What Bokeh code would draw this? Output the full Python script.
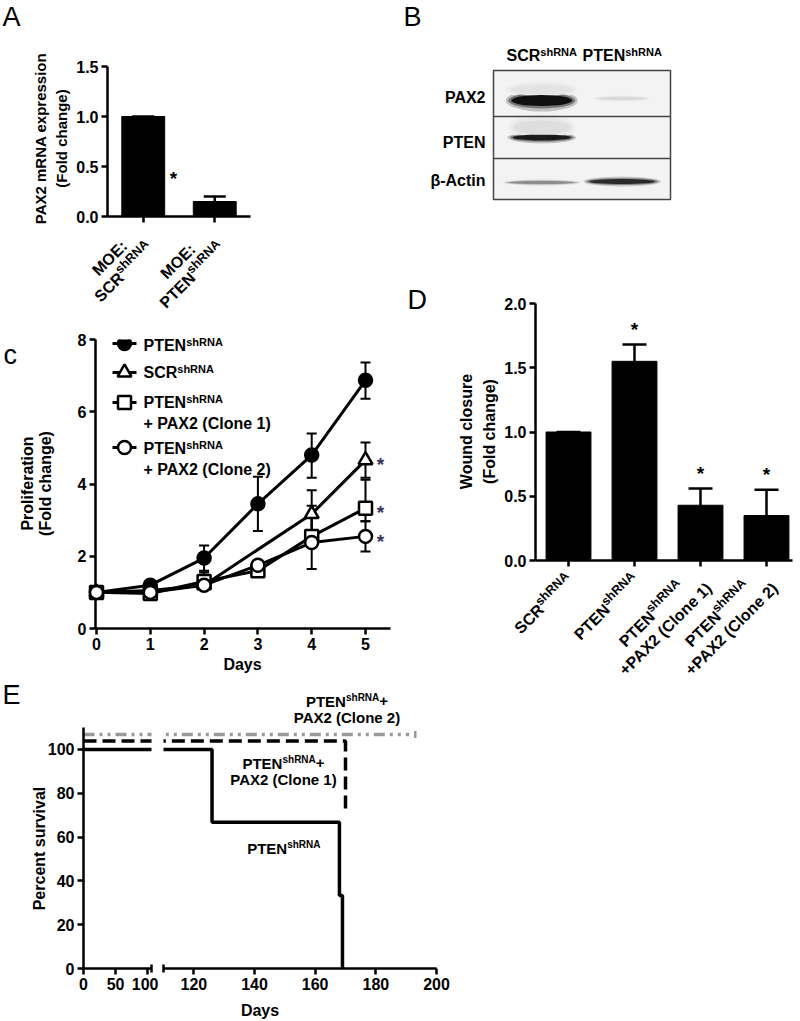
import math
from bokeh.plotting import figure
from bokeh.models import (Range1d, FixedTicker, Whisker, TeeHead,
                          ColumnDataSource, PrintfTickFormatter)
from bokeh.core.properties import value
from bokeh.layouts import column, row
from bokeh.embed import file_html
from bokeh.resources import INLINE

FONT = "Liberation Sans"

# ---------------- data ----------------
# Panel A: PAX2 mRNA expression
A_pos = [1, 2]
A_values = [1.0, 0.15]
A_err = [0.0, 0.05]
A_categories = [
    [[("MOE:", 0)], [("SCR", 0), ("shRNA", 1)]],
    [[("MOE:", 0)], [("PTEN", 0), ("shRNA", 1)]],
]

# Panel B: western blot (lane, row position, band size and intensity)
B_lanes = [1, 2]
B_lane_names = [[("SCR", 0), ("shRNA", 1)], [("PTEN", 0), ("shRNA", 1)]]
B_row_names = ["PAX2", "PTEN", "β-Actin"]
B_row_bounds = [83, 41]
B_band_lane = [1, 2, 1, 1, 1, 1, 2]
B_band_y = [99, 101, 110, 62, 72, 17, 18]
B_band_w = [0.80, 0.62, 0.80, 0.76, 0.74, 0.86, 0.86]
B_band_h = [11, 3, 9, 6, 14, 3, 5]
B_band_int = [1.0, 0.12, 0.07, 0.95, 0.09, 0.45, 0.88]

# Panel C: proliferation
C_days = [0, 1, 2, 3, 4, 5]
C_pten = [1.0, 1.2, 1.95, 3.45, 4.8, 6.87]
C_pten_lo = [1.0, 1.15, 1.6, 2.7, 4.17, 6.36]
C_pten_hi = [1.0, 1.25, 2.3, 4.2, 5.4, 7.36]
C_scr_days = [0, 1, 2, 4, 5]
C_scr = [1.0, 1.05, 1.2, 3.17, 4.66]
C_scr_lo = [1.0, 1.0, 1.1, 2.5, 4.17]
C_scr_hi = [1.0, 1.1, 1.3, 3.83, 5.15]
C_c1 = [1.0, 0.97, 1.3, 1.6, 2.55, 3.33]
C_c1_lo = [1.0, 0.95, 1.1, 1.55, 2.4, 2.97]
C_c1_hi = [1.0, 1.0, 1.55, 1.65, 3.4, 4.12]
C_c2 = [1.0, 1.0, 1.2, 1.75, 2.38, 2.55]
C_c2_lo = [1.0, 0.95, 1.1, 1.7, 1.65, 2.13]
C_c2_hi = [1.0, 1.05, 1.4, 1.8, 3.1, 2.97]
C_legend = [
    [[("PTEN", 0), ("shRNA", 1)]],
    [[("SCR", 0), ("shRNA", 1)]],
    [[("PTEN", 0), ("shRNA", 1)], [("+ PAX2 (Clone 1)", 0)]],
    [[("PTEN", 0), ("shRNA", 1)], [("+ PAX2 (Clone 2)", 0)]],
]

# Panel D: wound closure
D_pos = [1, 2, 3, 4]
D_values = [1.0, 1.55, 0.43, 0.35]
D_err = [0.0, 0.13, 0.13, 0.20]
D_star = [False, True, True, True]
D_categories = [
    [[("SCR", 0), ("shRNA", 1)]],
    [[("PTEN", 0), ("shRNA", 1)]],
    [[("PTEN", 0), ("shRNA", 1)], [("+PAX2 (Clone 1)", 0)]],
    [[("PTEN", 0), ("shRNA", 1)], [("+PAX2 (Clone 2)", 0)]],
]

# Panel E: survival
E_pten_t = [0, 126, 168, 169]
E_pten_s = [100, 66.7, 33.3, 0]
E_c1_t = [0, 170]
E_c1_s = [100, 66.7]
E_c2_t = [0, 191]
E_c2_s = [100, 100]
E_c2_censor = [193]
E_left_ticks = [0, 50, 100]
E_right_ticks = [120, 140, 160, 180, 200]
E_y_ticks = [0, 20, 40, 60, 80, 100]

# display offsets used to separate overlapping curves (style)
E_OFF_C1 = 3.8
E_OFF_C2 = 6.8

# ---------------- helpers ----------------
CW = {' ': 278, '(': 333, ')': 333, '+': 584, ':': 333, '.': 278, '-': 333, '*': 389,
      '0': 556, '1': 556, '2': 556, '3': 556, '4': 556, '5': 556, '6': 556, '7': 556, '8': 556, '9': 556,
      'A': 722, 'B': 722, 'C': 722, 'D': 722, 'E': 667, 'F': 611, 'G': 778, 'H': 722, 'I': 278,
      'K': 722, 'L': 611, 'M': 833, 'N': 722, 'O': 778, 'P': 667, 'R': 722, 'S': 667, 'T': 611,
      'U': 722, 'V': 667, 'W': 944, 'X': 667, 'Y': 667,
      'a': 556, 'b': 611, 'c': 556, 'd': 611, 'e': 556, 'f': 333, 'g': 611, 'h': 611, 'i': 278,
      'k': 556, 'l': 278, 'm': 889, 'n': 611, 'o': 611, 'p': 611, 'r': 389, 's': 556, 't': 333,
      'u': 611, 'v': 556, 'x': 556, 'y': 556, 'β': 611}

BASE_FIX = 0.30   # alphabetic baseline correction (fraction of font size)


def tw(s, size):
    return sum(CW.get(c, 600) for c in s) / 1000.0 * size


class Geo:
    """Converts page pixel positions of text into the data space of one figure."""

    def __init__(self, p, L, R, T, B):
        self.p, self.L, self.R, self.T, self.B = p, L, R, T, B
        self.x0, self.x1 = p.x_range.start, p.x_range.end
        self.y0, self.y1 = p.y_range.start, p.y_range.end

    def dx(self, X):
        return self.x0 + (X - self.L) * (self.x1 - self.x0) / (self.R - self.L)

    def dy(self, Y):
        return self.y0 + (self.B - Y) * (self.y1 - self.y0) / (self.B - self.T)

    def px(self, x):
        return self.L + (x - self.x0) * (self.R - self.L) / (self.x1 - self.x0)

    def py(self, y):
        return self.B - (y - self.y0) * (self.B - self.T) / (self.y1 - self.y0)

    def label(self, X, Y, text, size=16, bold=True, align="left", baseline="alphabetic",
              angle=0.0, color="black"):
        if baseline == "alphabetic" and angle == 0.0:
            Y = Y - BASE_FIX * size
        r = self.p.text(x=[self.dx(X)], y=[self.dy(Y)], text=[text], text_font=value(FONT),
                        text_font_size=value(f"{size}px"),
                        text_font_style=value("bold" if bold else "normal"),
                        text_align=value(align), text_baseline=value(baseline),
                        angle=angle, text_color=value(color))
        r.level = "overlay"


def line_w(parts, size, sup):
    return sum(tw(t, sup if s else size) for t, s in parts)


def rich(g, X, Y, parts, size=16, sup=11, align="left", angle=0.0, raise_px=None):
    if raise_px is None:
        raise_px = 0.33 * size
    u = (math.cos(angle), -math.sin(angle))
    v = (-math.sin(angle), -math.cos(angle))
    Wt = line_w(parts, size, sup)
    off = {"left": 0.0, "center": Wt / 2.0, "right": Wt}[align]
    sx, sy = X - off * u[0], Y - off * u[1]
    cum = 0.0
    for t, s in parts:
        r = raise_px if s else 0.0
        g.label(sx + cum * u[0] + r * v[0], sy + cum * u[1] + r * v[1], t,
                size=sup if s else size, angle=angle)
        cum += tw(t, sup if s else size)


def cat_label(g, tX, tY, lines, size=16, sup=12.5, lh=20, end=(-2, 13), ang=math.pi / 4):
    u = (math.cos(ang), -math.sin(ang))
    n = (math.sin(ang), math.cos(ang))
    Lmax = max(line_w(l, size, sup) for l in lines)
    ex, ey = tX + end[0], tY + end[1]
    cx, cy = ex - Lmax / 2 * u[0], ey - Lmax / 2 * u[1]
    k = len(lines)
    for i, l in enumerate(lines):
        o = (i - (k - 1) / 2.0) * lh
        bx = cx + o * n[0] + 0.36 * size * n[0]
        by = cy + o * n[1] + 0.36 * size * n[1]
        rich(g, bx, by, l, size, sup, align="center", angle=ang)


def mkfig(w, h, xr, yr, mb, **kw):
    p = figure(width=w, height=h, x_range=Range1d(*xr), y_range=Range1d(*yr),
               output_backend="svg", toolbar_location=None,
               min_border_left=mb[0], min_border_right=mb[1],
               min_border_top=mb[2], min_border_bottom=mb[3], **kw)
    p.outline_line_color = None
    p.grid.visible = False
    p.background_fill_color = "white"
    p.border_fill_color = "white"
    try:
        p.frame_align = False
    except Exception:
        pass
    return p


def style_axes(p):
    for ax in p.axis:
        ax.axis_line_width = 2.5
        ax.axis_line_color = "black"
        ax.major_tick_line_width = 2.5
        ax.major_tick_line_color = "black"
        ax.major_tick_out = 6
        ax.major_tick_in = 0
        ax.minor_tick_line_color = None
        ax.major_label_text_font = FONT
        ax.major_label_text_font_size = "16px"
        ax.major_label_text_font_style = "bold"
        ax.major_label_text_color = "black"
        ax.major_label_standoff = 3


def star(g, X, Y, size=19, color="black"):
    # centre of the asterisk glyph at (X, Y)
    g.label(X, Y + 0.55 * size, "*", size=size, align="center", color=color)


# ================= Panel A =================
pA = mkfig(395, 330, (0.5, 2.5), (0, 1.5), (107, 145, 66, 114))
gA = Geo(pA, 107, 250, 66, 216)
style_axes(pA)
pA.yaxis.ticker = FixedTicker(ticks=[0, 0.5, 1.0, 1.5])
pA.yaxis.formatter = PrintfTickFormatter(format="%.1f")
pA.xaxis.ticker = FixedTicker(ticks=A_pos)
pA.xaxis.major_label_overrides = {1: "", 2: ""}
pA.vbar(x=A_pos, top=A_values, width=0.6, color="black")
srcA = ColumnDataSource(dict(x=A_pos, lo=A_values, hi=[v + e for v, e in zip(A_values, A_err)]))
pA.add_layout(Whisker(source=srcA, base="x", lower="lo", upper="hi", line_width=2.5,
                      lower_head=None, upper_head=TeeHead(size=22, line_width=2.5)))
gA.label(2, 25, "A", size=27, bold=False)
gA.label(40, 138, "PAX2 mRNA expression", size=15, align="center", baseline="middle", angle=math.pi / 2)
gA.label(61, 138, "(Fold change)", size=15, align="center", baseline="middle", angle=math.pi / 2)
for x, lines in zip(A_pos, A_categories):
    cat_label(gA, gA.px(x), 216, lines, end=(-4, 18))
star(gA, 173, 173)

# ================= Panel B =================
pB = figure(width=405, height=225, x_range=Range1d(0.4, 2.6), y_range=Range1d(0, 129),
            x_axis_type=None, y_axis_type=None, output_backend="svg", toolbar_location=None,
            min_border_left=98, min_border_right=130, min_border_top=70, min_border_bottom=26)
try:
    pB.frame_align = False
except Exception:
    pass
pB.grid.visible = False
pB.background_fill_color = "#f3f3f3"
pB.border_fill_color = "white"
pB.outline_line_color = "#444444"
pB.outline_line_width = 1.5
gB = Geo(pB, 493, 670, 70, 199)
BG = 243
for ws, hs, am in [(1.12, 2.0, 0.22), (1.04, 1.45, 0.55), (0.95, 1.0, 1.0)]:
    xs, ys, wd, ht, cols = [], [], [], [], []
    for ln, y, w, h, it in zip(B_band_lane, B_band_y, B_band_w, B_band_h, B_band_int):
        a = min(1.0, it * am)
        c = int(round(BG * (1 - a) + 15 * a))
        xs.append(ln); ys.append(y); wd.append(w * ws); ht.append(h * hs)
        cols.append("#%02x%02x%02x" % (c, c, c))
    pB.ellipse(x=xs, y=ys, width=wd, height=ht, fill_color=cols, line_color=None)
pB.segment(x0=[0.4] * len(B_row_bounds), x1=[2.6] * len(B_row_bounds), y0=B_row_bounds,
           y1=B_row_bounds, line_color="#444444", line_width=1.5)
gB.label(403, 25, "B", size=27, bold=False)
for ln, parts in zip(B_lanes, B_lane_names):
    rich(gB, gB.px(ln), 60, parts, align="center")
for name, Y in zip(B_row_names, [102, 147, 185]):
    gB.label(485, Y, name, align="right")

# ================= Panel C =================
C_K = 53.8   # px per day
pC = mkfig(395, 350, (-(96 - 95) / C_K, (390 - 96) / C_K), (0, 8), (95, 5, 9, 52))
gC = Geo(pC, 95, 390, 339, 628)
style_axes(pC)
pC.xaxis.ticker = FixedTicker(ticks=C_days)
pC.yaxis.ticker = FixedTicker(ticks=[0, 2, 4, 6, 8])


def series(p, x, y, lo, hi, marker, fill, size):
    src = ColumnDataSource(dict(x=x, lo=lo, hi=hi))
    p.add_layout(Whisker(source=src, base="x", lower="lo", upper="hi", line_width=2,
                         line_color="black",
                         upper_head=TeeHead(size=10, line_width=2),
                         lower_head=TeeHead(size=10, line_width=2)))
    p.line(x, y, line_width=3, color="black")
    r = p.scatter(x, y, marker=marker, size=size, fill_color=fill, line_color="black", line_width=2.5)
    r.level = "overlay"   # markers at day 0 sit on the y axis and must not be clipped


C_styles = [("circle", "black", 13), ("triangle", "white", 14), ("square", "white", 13), ("circle", "white", 13)]
series(pC, C_days, C_pten, C_pten_lo, C_pten_hi, *C_styles[0])
series(pC, C_scr_days, C_scr, C_scr_lo, C_scr_hi, *C_styles[1])
series(pC, C_days, C_c1, C_c1_lo, C_c1_hi, *C_styles[2])
series(pC, C_days, C_c2, C_c2_lo, C_c2_hi, *C_styles[3])

# legend keys (layout positions in px)
LEG_KEY_X = (112, 124, 136)
LEG_Y = [343, 372, 402, 447]
LEG_TEXT_BASE = [(350,), (377,), (407, 428), (453, 474)]
for (mk, fill, sz), Y, lines, bases in zip(C_styles, LEG_Y, C_legend, LEG_TEXT_BASE):
    pC.line([gC.dx(LEG_KEY_X[0]), gC.dx(LEG_KEY_X[2])], [gC.dy(Y), gC.dy(Y)], line_width=3, color="black")
    pC.scatter([gC.dx(LEG_KEY_X[1])], [gC.dy(Y)], marker=mk, size=sz, fill_color=fill,
               line_color="black", line_width=2.5)
    for l, bY in zip(lines, bases):
        rich(gC, 143, bY, l)

for vals in (C_scr, C_c1, C_c2):
    star(gC, gC.px(5) + 15, gC.py(vals[-1]), color="#33335e")

gC.label(3, 363, "c", size=27, bold=False)
gC.label(27, 483, "Proliferation", size=16, align="center", baseline="middle", angle=math.pi / 2)
gC.label(45, 483, "(Fold change)", size=16, align="center", baseline="middle", angle=math.pi / 2)
gC.label(242, 669, "Days", size=16, align="center")

# ================= Panel D =================
pD = mkfig(405, 455, (0.5, 4.394), (0, 2.0), (140, 8, 78, 120))
gD = Geo(pD, 535, 792, 303, 560)
style_axes(pD)
pD.yaxis.ticker = FixedTicker(ticks=[0, 0.5, 1.0, 1.5, 2.0])
pD.yaxis.formatter = PrintfTickFormatter(format="%.1f")
pD.xaxis.ticker = FixedTicker(ticks=D_pos)
pD.xaxis.major_label_overrides = {1: "", 2: "", 3: "", 4: ""}
pD.vbar(x=D_pos, top=D_values, width=0.68, color="black")
srcD = ColumnDataSource(dict(x=D_pos, lo=D_values, hi=[v + e for v, e in zip(D_values, D_err)]))
pD.add_layout(Whisker(source=srcD, base="x", lower="lo", upper="hi", line_width=2.5,
                      lower_head=None, upper_head=TeeHead(size=24, line_width=2.5)))
for x, v, e, s in zip(D_pos, D_values, D_err, D_star):
    if s:
        star(gD, gD.px(x), gD.py(v + e) - 20)
for x, lines in zip(D_pos, D_categories):
    cat_label(gD, gD.px(x), 560, lines)
gD.label(407, 308, "D", size=27, bold=False)
gD.label(466, 431, "Wound closure", size=16, align="center", baseline="middle", angle=math.pi / 2)
gD.label(489, 431, "(Fold change)", size=16, align="center", baseline="middle", angle=math.pi / 2)

# ================= Panel E =================
pE1 = mkfig(158, 341, (0, 106), (0, 110), (83, 7, 47, 53))
pE2 = mkfig(642, 341, (110, 200), (0, 110), (5, 364, 47, 53), y_axis_location=None)
gE1 = Geo(pE1, 83, 151, 727, 968)
gE2 = Geo(pE2, 163, 436, 727, 968)
style_axes(pE1)
style_axes(pE2)
pE1.yaxis.ticker = FixedTicker(ticks=E_y_ticks)
pE1.xaxis.ticker = FixedTicker(ticks=E_left_ticks, minor_ticks=[105.9])
pE2.xaxis.ticker = FixedTicker(ticks=E_right_ticks, minor_ticks=[110.1])
for ax in (pE1.xaxis[0], pE2.xaxis[0]):
    ax.minor_tick_line_color = "black"
    ax.minor_tick_line_width = 2.5
    ax.minor_tick_in = 4
    ax.minor_tick_out = 4
for p in (pE1, pE2):
    p.step(E_c2_t, [s + E_OFF_C2 for s in E_c2_s], mode="after", line_width=3.5,
           line_color="#9a9a9a", line_dash="11 5 3 5 3 5")
    p.step(E_c1_t, [s + E_OFF_C1 for s in E_c1_s], mode="after", line_width=3.5,
           line_color="black", line_dash="13 6")
    p.step(E_pten_t, E_pten_s, mode="after", line_width=3.5, line_color="black")
pE2.scatter(E_c2_censor, [100 + E_OFF_C2], marker="dash", angle=math.pi / 2, size=7,
            line_color="#9a9a9a", line_width=2.5)

gE1.label(2, 703, "E", size=27, bold=False)
gE1.label(39, 848, "Percent survival", size=16, align="center", baseline="middle", angle=math.pi / 2)
gE2.label(259.5, 1015, "Days", size=16, align="center")
rich(gE2, 346.5, 705, [("PTEN", 0), ("shRNA", 1), ("+", 0)], size=15, sup=10, align="center")
gE2.label(346.5, 721, "PAX2 (Clone 2)", size=15, align="center")
rich(gE2, 283, 767, [("PTEN", 0), ("shRNA", 1), ("+", 0)], size=15, sup=10, align="center")
gE2.label(283, 783, "PAX2 (Clone 1)", size=15, align="center")
rich(gE2, 283.3, 852, [("PTEN", 0), ("shRNA", 1)], size=15, sup=10, align="center")

layout = column(row(column(pA, pC, spacing=0), column(pB, pD, spacing=0), spacing=0),
                row(pE1, pE2, spacing=0), spacing=0)

open("out.html", "w").write(file_html(layout, INLINE))
